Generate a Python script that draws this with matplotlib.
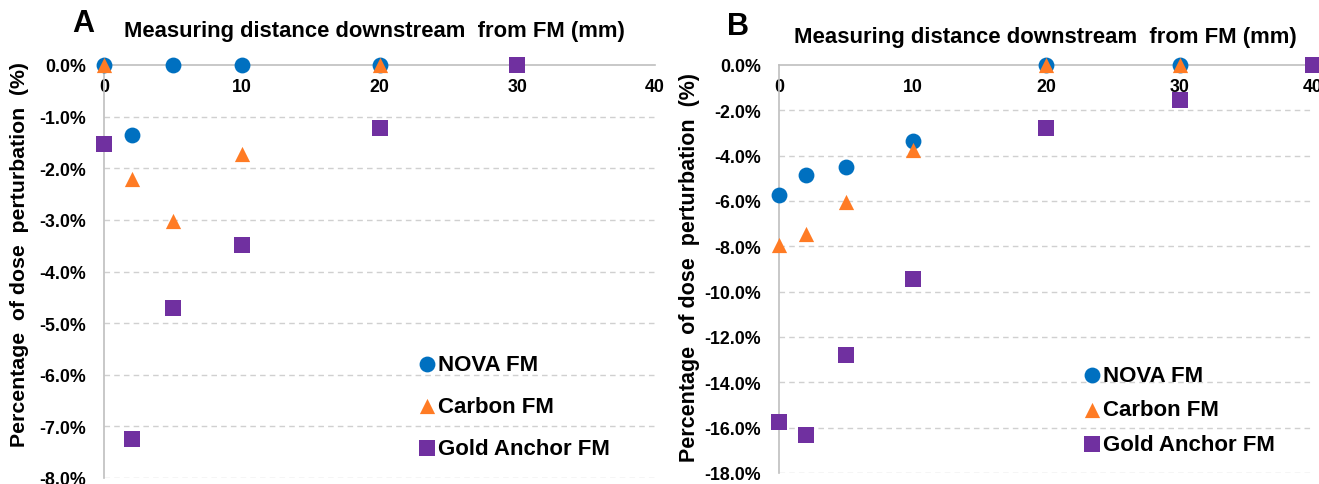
import numpy as np
import matplotlib.pyplot as plt
from matplotlib.ticker import FuncFormatter

plt.rcParams['font.family'] = ['Liberation Sans', 'DejaVu Sans']
plt.rcParams['font.weight'] = 'bold'

# Panel A data (dose perturbation, %)
a_nova_x = [0, 2, 5, 10, 20]
a_nova_y = [0.0, -1.36, 0.0, 0.0, 0.0]
a_carbon_x = [0, 2, 5, 10, 20]
a_carbon_y = [0.0, -2.2, -3.03, -1.73, 0.0]
a_gold_x = [0, 2, 5, 10, 20, 30]
a_gold_y = [-1.53, -7.24, -4.7, -3.48, -1.22, 0.0]

# Panel B data (dose perturbation, %)
b_nova_x = [0, 2, 5, 10, 20, 30]
b_nova_y = [-5.75, -4.85, -4.52, -3.35, 0.0, 0.0]
b_carbon_x = [0, 2, 5, 10, 20, 30]
b_carbon_y = [-7.95, -7.45, -6.05, -3.75, 0.0, 0.0]
b_gold_x = [0, 2, 5, 10, 20, 30, 40]
b_gold_y = [-15.75, -16.32, -12.78, -9.43, -2.77, -1.55, 0.0]

x_ticks = [0, 10, 20, 30, 40]
a_yticks = [0, -1, -2, -3, -4, -5, -6, -7, -8]
b_yticks = [0, -2, -4, -6, -8, -10, -12, -14, -16, -18]

series_names = ['NOVA FM', 'Carbon FM', 'Gold Anchor FM']
colors = ['#0070C0', '#FF7B24', '#7030A0']
markers = ['o', '^', 's']

W, H = 1319, 485
fig = plt.figure(figsize=(W/100, H/100), dpi=100)
axA = fig.add_axes([104/W, 1-479/H, (655-104)/W, (479-66)/H])
axB = fig.add_axes([779/W, 1-474/H, (1313-779)/W, (474-66)/H])


def style_axes(ax, yticks):
    ax.set_xlim(0, 40)
    ax.set_ylim(min(yticks), 0)
    ax.set_xticks(x_ticks)
    ax.set_yticks(yticks)
    ax.yaxis.set_major_formatter(FuncFormatter(lambda v, p: f"{v:.1f}%"))
    for s in ['top', 'right']:
        ax.spines[s].set_visible(False)
    ax.spines['bottom'].set_position(('data', 0))
    for s in ['bottom', 'left']:
        ax.spines[s].set_color('#BFBFBF')
        ax.spines[s].set_linewidth(1.2)
    ax.tick_params(length=0, labelsize=12.8)
    ax.tick_params(axis='y', pad=13)
    ax.tick_params(axis='x', pad=9)
    for t in yticks[1:]:
        ax.axhline(t, color='#D0D0D0', lw=1, ls=(0, (4, 3)), zorder=0)


def plot_panel(ax, data, yticks, leg_xy, spacing):
    style_axes(ax, yticks)
    handles = []
    for (xs, ys), name, c, m in zip(data, series_names, colors, markers):
        h = ax.scatter(xs, ys, s=130 if m != '^' else 120, c=c, marker=m,
                       clip_on=False, zorder=5, label=name, linewidths=0)
        handles.append(h)
    x0, y0 = leg_xy
    ax.legend(handles=handles, loc='upper left', bbox_to_anchor=(x0/W, 1-y0/H),
              bbox_transform=fig.transFigure, frameon=False, fontsize=16,
              handletextpad=0.0, labelspacing=spacing, handlelength=1.0,
              borderaxespad=0, borderpad=0)


plot_panel(axA, [(a_nova_x, a_nova_y), (a_carbon_x, a_carbon_y), (a_gold_x, a_gold_y)],
           a_yticks, (416, 355), 0.95)
plot_panel(axB, [(b_nova_x, b_nova_y), (b_carbon_x, b_carbon_y), (b_gold_x, b_gold_y)],
           b_yticks, (1081, 366), 0.6)

# titles, panel letters, y labels
title = 'Measuring distance downstream  from FM (mm)'
fig.text(374/W, 1-32/H, title, ha='center', va='center', fontsize=15.8)
fig.text(1045/W, 1-37/H, title, ha='center', va='center', fontsize=15.9)
fig.text(83/W, 1-24/H, 'A', ha='center', va='center', fontsize=22)
fig.text(738/W, 1-27/H, 'B', ha='center', va='center', fontsize=22)
ylab = 'Percentage  of dose  perturbation  (%)'
fig.text(20/W, 1-255/H, ylab, rotation=90, ha='center', va='center', fontsize=15.3)
fig.text(690/W, 1-268/H, ylab, rotation=90, ha='center', va='center', fontsize=15.5)

fig.savefig('out.png', dpi=100)
